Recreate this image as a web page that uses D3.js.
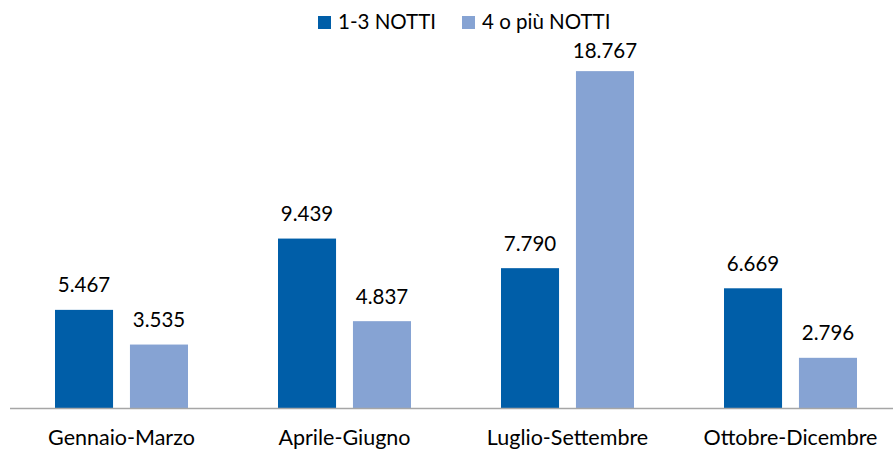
<!DOCTYPE html>
<html lang="it">
<head>
    <meta charset="utf-8">
    <title>Notti per trimestre</title>
    <script src="https://d3js.org/d3.v7.min.js"></script>
    <style>
        body { margin: 0; background: #fff; }
        text { font-family: Lato, "Open Sans", sans-serif; fill: #000; }
    </style>
</head>
<body>
    <div id="chart"></div>
    <script>
        const categories = ['Gennaio-Marzo', 'Aprile-Giugno', 'Luglio-Settembre', 'Ottobre-Dicembre'];
        const seriesNames = ['1-3 NOTTI', '4 o più NOTTI'];
        const shortStay = [5467, 9439, 7790, 6669];
        const longStay = [3535, 4837, 18767, 2796];
        const colors = ['#005EA8', '#86A3D3'];

        const width = 893, height = 450;
        const baseY = 408, topY = 49;

        const itFormat = d3.formatLocale({ decimal: ',', thousands: '.', grouping: [3], currency: ['€', ''] }).format(',d');

        const svg = d3.select('#chart').append('svg')
            .attr('width', width)
            .attr('height', height);

        const x = d3.scaleBand()
            .domain(categories)
            .range([10, 902]);

        // two bars of ~59px with a 15px gap, centred in each category
        const x1 = d3.scaleBand()
            .domain([0, 1])
            .range([x.bandwidth() / 2 - 66.5, x.bandwidth() / 2 + 66.5])
            .paddingInner(15 / 66.5);

        const y = d3.scaleLinear()
            .domain([0, 20000])
            .range([baseY, topY]);

        const rows = categories.map((c, i) => ({ cat: c, vals: [shortStay[i], longStay[i]] }));

        const groups = svg.selectAll('g.cat')
            .data(rows)
            .join('g')
            .attr('class', 'cat')
            .attr('transform', d => `translate(${x(d.cat)},0)`);

        groups.selectAll('rect')
            .data(d => d.vals.map((v, j) => ({ v, j })))
            .join('rect')
            .attr('x', d => x1(d.j))
            .attr('width', x1.bandwidth())
            .attr('y', d => y(d.v))
            .attr('height', d => baseY - y(d.v))
            .attr('fill', d => colors[d.j]);

        groups.selectAll('text.val')
            .data(d => d.vals.map((v, j) => ({ v, j })))
            .join('text')
            .attr('class', 'val')
            .attr('x', d => x1(d.j) + x1.bandwidth() / 2)
            .attr('y', d => Math.max(y(d.v) - 17.5, 58))
            .attr('text-anchor', 'middle')
            .attr('font-size', '20.5px')
            .text(d => itFormat(d.v));

        // axis
        svg.append('line')
            .attr('x1', 10).attr('x2', width)
            .attr('y1', baseY + 0.5).attr('y2', baseY + 0.5)
            .attr('stroke', '#A6A6A6')
            .attr('stroke-width', 1.5);

        svg.selectAll('text.cat')
            .data(categories)
            .join('text')
            .attr('class', 'cat')
            .attr('x', d => x(d) + x.bandwidth() / 2)
            .attr('y', 444.5)
            .attr('text-anchor', 'middle')
            .attr('font-size', '21.5px')
            .text(d => d);

        // legend
        const legendX = [318, 462];
        const legend = svg.selectAll('g.leg')
            .data(seriesNames)
            .join('g')
            .attr('class', 'leg')
            .attr('transform', (d, i) => `translate(${legendX[i]},16)`);
        legend.append('rect')
            .attr('width', 13).attr('height', 13)
            .attr('fill', (d, i) => colors[i]);
        legend.append('text')
            .attr('x', 20).attr('y', 13)
            .attr('font-size', '20.5px')
            .text(d => d);
    </script>
</body>
</html>
